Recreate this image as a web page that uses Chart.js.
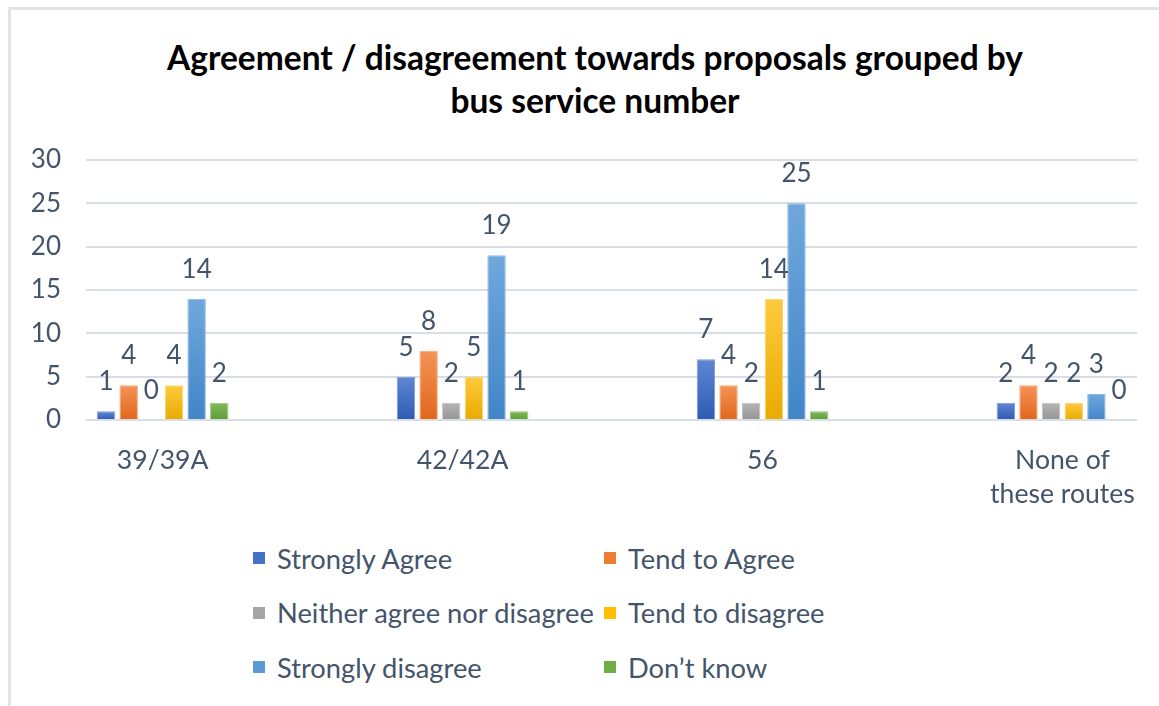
<!DOCTYPE html>
<html>
<head>
<meta charset="utf-8">
<script src="https://cdn.jsdelivr.net/npm/chart.js@4.4.1/dist/chart.umd.min.js"></script>
<style>
  html, body { margin: 0; padding: 0; background: #fff; }
  body { width: 1159px; height: 706px; position: relative; overflow: hidden; font-family: Lato, sans-serif; }
  .frame { position: absolute; left: 8px; top: 7px; right: -10px; bottom: -10px;
           border-left: 3px solid #dfe3ea; border-top: 3px solid #dfe3ea; }
  .title { position: absolute; left: 0; top: 35.5px; width: 1190px; text-align: center;
           font-size: 33.5px; font-weight: bold; line-height: 43px; color: #000; }
  .chart-box { position: absolute; left: 0; top: 0; width: 1159px; height: 530px; }
  #legend { position: absolute; left: 253px; top: 531px; display: grid;
            grid-template-columns: 351px 300px; grid-auto-rows: 54.5px; }
  .item { display: flex; align-items: center; font-size: 27.3px; color: #44546a; white-space: nowrap; }
  .swatch { width: 12px; height: 12px; margin-right: 12px; flex: none; }
</style>
</head>
<body>
<div class="frame"></div>
<div class="title">Agreement / disagreement towards proposals grouped by<br>bus service number</div>
<div class="chart-box"><canvas id="busChart"></canvas></div>
<div id="legend"></div>
<script>
const routes = ['39/39A', '42/42A', '56', ['None of', 'these routes']];
const responses = ['Strongly Agree', 'Tend to Agree', 'Neither agree nor disagree',
                   'Tend to disagree', 'Strongly disagree', 'Don\u2019t know'];

const stronglyAgree    = [1, 5, 7, 2];
const tendToAgree      = [4, 8, 4, 4];
const neither          = [0, 2, 2, 2];
const tendToDisagree   = [4, 5, 14, 2];
const stronglyDisagree = [14, 19, 25, 3];
const dontKnow         = [2, 1, 1, 0];

const yTicks = [0, 5, 10, 15, 20, 25, 30];

// office-style fills: lighter at the top of each bar, darker at the foot
const palette = [
  { top: '#5f86d3', mid: '#4472c4', bottom: '#2d5bb4', edge: '#7d9bd9' },
  { top: '#f39457', mid: '#ed7d31', bottom: '#e2661b', edge: '#f4a674' },
  { top: '#b5b5b5', mid: '#a5a5a5', bottom: '#959595', edge: '#c4c4c4' },
  { top: '#ffca3f', mid: '#ffc000', bottom: '#e8ab00', edge: '#ffd466' },
  { top: '#70a8dd', mid: '#5b9bd5', bottom: '#4185c8', edge: '#8ab7e2' },
  { top: '#80bb5d', mid: '#70ad47', bottom: '#5f9c38', edge: '#98c77c' }
];

const textColor = '#44546a';
const baseFont = { family: 'Lato, sans-serif', size: 26 };

function barFill(context, colors) {
  const chart = context.chart;
  const y = chart.scales.y;
  if (!y || context.type !== 'data') return colors.mid;
  const top = y.getPixelForValue(context.parsed.y);
  const bottom = y.getPixelForValue(0);
  if (!Number.isFinite(top) || !Number.isFinite(bottom) || bottom - top < 1) return colors.mid;
  const g = chart.ctx.createLinearGradient(0, top, 0, bottom);
  g.addColorStop(0, colors.top);
  g.addColorStop(1, colors.bottom);
  return g;
}

const series = [stronglyAgree, tendToAgree, neither, tendToDisagree, stronglyDisagree, dontKnow];

const datasets = series.map((values, i) => ({
  label: responses[i],
  data: values.map((v, j) => ({ x: j, y: v })),
  backgroundColor: ctx => barFill(ctx, palette[i]),
  borderColor: palette[i].edge,
  borderWidth: 1
}));

// numbers printed above each bar
const valueLabels = {
  id: 'valueLabels',
  afterDatasetsDraw(chart) {
    const ctx = chart.ctx;
    ctx.save();
    ctx.font = `${baseFont.size}px ${baseFont.family}`;
    ctx.fillStyle = textColor;
    ctx.textAlign = 'center';
    ctx.textBaseline = 'alphabetic';
    chart.data.datasets.forEach((ds, i) => {
      chart.getDatasetMeta(i).data.forEach((bar, j) => {
        ctx.fillText(String(ds.data[j].y), bar.x, bar.y - 21);
      });
    });
    ctx.restore();
  }
};

// two-column legend under the plot
const legend = document.getElementById('legend');
responses.forEach((name, i) => {
  const item = document.createElement('div');
  item.className = 'item';
  const swatch = document.createElement('span');
  swatch.className = 'swatch';
  swatch.style.background = palette[i].mid;
  const label = document.createElement('span');
  label.textContent = name;
  item.appendChild(swatch);
  item.appendChild(label);
  legend.appendChild(item);
});

new Chart(document.getElementById('busChart'), {
  type: 'bar',
  data: { datasets },
  plugins: [valueLabels],
  options: {
    responsive: true,
    maintainAspectRatio: false,
    animation: false,
    layout: { padding: { left: 0, right: 16, top: 160, bottom: 0 } },
    datasets: { bar: { categoryPercentage: 0.453, barPercentage: 0.813 } },
    plugins: {
      legend: { display: false },
      tooltip: { enabled: false }
    },
    scales: {
      x: {
        type: 'linear',
        offset: false,
        bounds: 'data',
        min: -0.2556,
        max: 3.249,
        afterBuildTicks: scale => { scale.ticks = routes.map((_, i) => ({ value: i })); },
        afterFit: scale => { scale.height = 110; },
        grid: { display: false, drawTicks: false },
        border: { display: false },
        ticks: {
          padding: 23,
          color: textColor,
          font: { family: baseFont.family, size: 26.6, lineHeight: 1.3 },
          maxRotation: 0,
          autoSkip: false,
          callback: (value, index) => routes[index]
        }
      },
      y: {
        min: 0,
        max: 30,
        afterBuildTicks: scale => { scale.ticks = yTicks.map(v => ({ value: v })); },
        afterFit: scale => { scale.width = 86; },
        grid: { color: '#d9dde4', lineWidth: 2, drawTicks: false },
        border: { display: false },
        ticks: { padding: 25, color: textColor, font: baseFont }
      }
    }
  }
});
</script>
</body>
</html>
